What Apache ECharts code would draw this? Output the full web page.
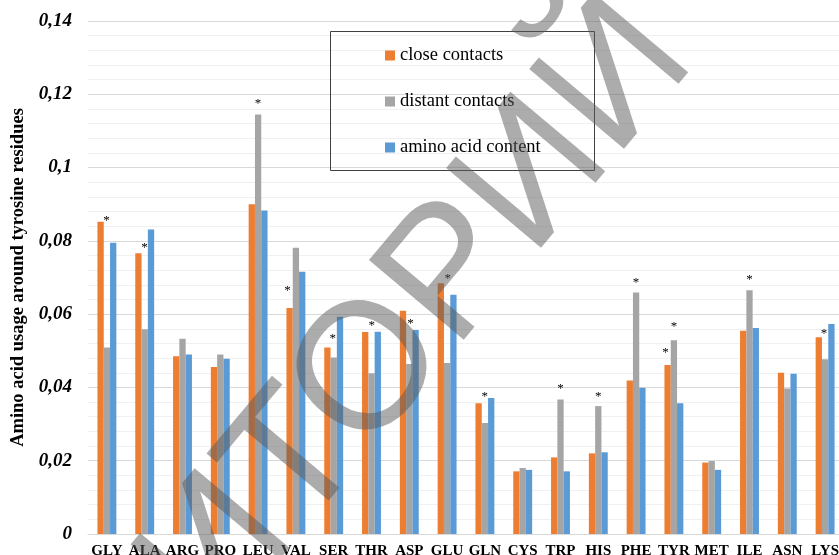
<!DOCTYPE html>
<html>
<head>
<meta charset="utf-8">
<script src="https://cdn.jsdelivr.net/npm/echarts@6/dist/echarts.min.js"></script>
<style>
  html, body { margin: 0; padding: 0; background: #fff; }
  #chart { width: 839px; height: 555px; }
</style>
</head>
<body>
<div id="chart"></div>
<script>
// Amino acids (x categories)
const categories = ['GLY','ALA','ARG','PRO','LEU','VAL','SER','THR','ASP','GLU',
                    'GLN','CYS','TRP','HIS','PHE','TYR','MET','ILE','ASN','LYS'];

// Series values
const closeContacts   = [0.0852,0.0766,0.0485,0.0456,0.0900,0.0617,0.0509,0.0551,0.0609,0.0684,
                         0.0357,0.0171,0.0209,0.0220,0.0419,0.0461,0.0195,0.0555,0.0440,0.0537];
const distantContacts = [0.0509,0.0559,0.0533,0.0490,0.1145,0.0781,0.0482,0.0439,0.0464,0.0467,
                         0.0303,0.0180,0.0367,0.0349,0.0659,0.0529,0.0199,0.0665,0.0397,0.0477];
const aminoContent    = [0.0795,0.0831,0.0490,0.0478,0.0883,0.0716,0.0593,0.0552,0.0557,0.0653,
                         0.0371,0.0175,0.0171,0.0223,0.0399,0.0357,0.0175,0.0562,0.0437,0.0573];

const seriesNames = ['close contacts', 'distant contacts', 'amino acid content'];

// Significance marks: [amino acid, index of the series whose bar carries the mark]
const starMarks = [['GLY',0],['ALA',0],['LEU',1],['VAL',0],['SER',0],['THR',0],['ASP',2],['GLU',0],
                   ['GLN',2],['TRP',1],['HIS',1],['PHE',1],['TYR',0],['TYR',1],['ILE',1],['LYS',0]];

// Y axis ticks
const yMin = 0, yMax = 0.14, yStep = 0.02;

const watermarkText = 'РЕПОЗИТОРИЙ';

// --- layout of the asterisks relative to their bar top: [dx px, lift px] ---
const starPlacement = [[6,2.7],[6,7.3],[0,12.3],[-2,19.3],[5.4,10],[6.6,7.7],[-5.2,8.3],[7,6],
                       [-6.4,3.3],[0,12.4],[0,11],[0,11.7],[-2,14.3],[0,14.6],[0,12.6],[5.3,5.6]];

const colors = ['#ED7D31', '#A5A5A5', '#5B9BD5'];
const serif = '"Liberation Serif", "Times New Roman", serif';

function buildData(values, sIdx) {
  return values.map((v, i) => {
    const k = starMarks.findIndex(m => m[0] === categories[i] && m[1] === sIdx);
    if (k < 0) return v;
    const [dx, lift] = starPlacement[k];
    return {
      value: v,
      label: {
        show: true,
        formatter: '*',
        position: 'top',
        distance: 0,
        verticalAlign: 'middle',
        offset: [dx, -lift + 1.5],
        fontFamily: serif,
        fontSize: 13,
        color: '#000'
      }
    };
  });
}

const allValues = [closeContacts, distantContacts, aminoContent];

const chart = echarts.init(document.getElementById('chart'), null, { renderer: 'canvas' });

const wmAngle = 50 * Math.PI / 180;

chart.setOption({
  animation: false,
  backgroundColor: '#fff',
  color: colors,
  grid: {
    left: 88, top: 21, width: 756, height: 513,
    containLabel: false,
    outerBoundsMode: 'none'
  },
  legend: {
    orient: 'vertical',
    left: 385,
    top: 45.5,
    padding: 0,
    icon: 'rect',
    itemWidth: 10,
    itemHeight: 10,
    itemGap: 26,
    selectedMode: false,
    data: seriesNames,
    textStyle: { fontFamily: serif, fontSize: 18.5, color: '#000', lineHeight: 20 }
  },
  xAxis: {
    type: 'category',
    data: categories,
    axisLine: { show: true, lineStyle: { color: '#d9d9d9', width: 1 } },
    axisTick: { show: false },
    axisLabel: {
      interval: 0,
      margin: 10,
      fontFamily: serif,
      fontWeight: 'bold',
      fontSize: 15,
      color: '#000'
    }
  },
  yAxis: {
    type: 'value',
    min: yMin,
    max: yMax,
    interval: yStep,
    name: 'Amino acid usage around tyrosine residues',
    nameLocation: 'middle',
    nameGap: 58,
    nameTextStyle: { fontFamily: serif, fontWeight: 'bold', fontSize: 18.5, color: '#000' },
    axisLine: { show: false },
    axisTick: { show: false },
    axisLabel: {
      margin: 16,
      fontFamily: serif,
      fontWeight: 'bold',
      fontStyle: 'italic',
      fontSize: 19,
      color: '#000',
      formatter: v => String(+v.toFixed(2)).replace('.', ',')
    },
    splitLine: { show: true, lineStyle: { color: '#d9d9d9', width: 1 } },
    minorTick: { show: false, splitNumber: 5 },
    minorSplitLine: { show: true, lineStyle: { color: '#f0f0f0', width: 1 } }
  },
  series: allValues.map((vals, s) => ({
    name: seriesNames[s],
    type: 'bar',
    barWidth: 6.3,
    barGap: '0%',
    data: buildData(vals, s)
  })),
  graphic: [
    {
      type: 'rect',
      z: 50,
      shape: { x: 330.5, y: 31.5, width: 264, height: 139 },
      style: { fill: null, stroke: '#404040', lineWidth: 1 }
    },
    {
      type: 'text',
      z: 100,
      x: 220,
      y: 553,
      rotation: wmAngle,
      silent: true,
      style: {
        text: watermarkText,
        font: '180px "Liberation Sans", Arial, sans-serif',
        fill: 'rgba(90,90,90,0.5)',
        align: 'center',
        verticalAlign: 'middle',
        textAlign: 'center',
        textVerticalAlign: 'middle'
      }
    }
  ]
});
</script>
</body>
</html>
